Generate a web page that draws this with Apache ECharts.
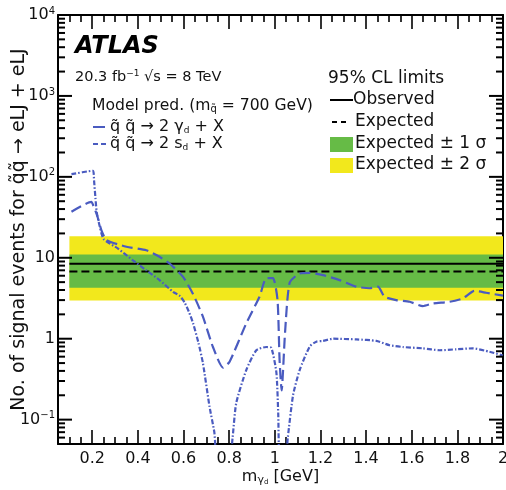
<!DOCTYPE html>
<html><head><meta charset="utf-8">
<script src="https://cdn.jsdelivr.net/npm/echarts@6/dist/echarts.min.js"></script>
<style>html,body{margin:0;padding:0;background:#fff}#c{width:506px;height:490px}</style>
</head><body><div id="c"></div><script>
// ---- data ----
const gammaX = [0.109,0.196,0.205,0.222,0.24,0.263,0.35,0.437,0.481,0.539,0.598,0.641,0.685,0.729,0.773,0.802,0.875,0.933,0.963,0.992,1.012,1.021,1.03,1.045,1.065,1.109,1.153,1.211,1.284,1.357,1.415,1.452,1.481,1.532,1.591,1.649,1.693,1.766,1.824,1.875,1.926,2.0];
const gammaY = [37,49,44,33,22,16.5,13.7,12.4,10.8,8.5,5.8,3.6,1.87,0.79,0.44,0.52,1.55,3.3,5.6,5.6,3.0,0.54,0.23,1.2,4.9,6.4,6.5,6.1,5.3,4.4,4.2,4.4,3.3,3.0,2.86,2.53,2.73,2.86,3.15,3.9,3.7,3.4];
const sdX = [0.109,0.203,0.208,0.214,0.22,0.232,0.25,0.313,0.378,0.437,0.495,0.554,0.583,0.605,0.625,0.642,0.665,0.685,0.714,0.735,0.75,0.8,0.815,0.831,0.875,0.919,0.963,0.985,1.007,1.015,1.022,1.045,1.057,1.08,1.109,1.153,1.182,1.211,1.255,1.357,1.445,1.503,1.561,1.649,1.722,1.795,1.868,1.941,2.0];
const sdY = [108,119,90,55,36,25,17,13,9.3,7.0,5.3,3.8,3.4,2.8,2.1,1.55,0.9,0.5,0.145,0.07,0.03,0.03,0.06,0.16,0.41,0.72,0.79,0.77,0.38,0.12,0.03,0.03,0.06,0.2,0.41,0.8,0.92,0.94,1.0,0.98,0.94,0.83,0.79,0.76,0.72,0.74,0.76,0.69,0.62];
const limitRange = [0.1, 2.0];
const observed = 8.43;
const expected = 6.79;
const band1 = [4.26, 11.0];
const band2 = [2.97, 18.5];
const xTickLabels = [0.2,0.4,0.6,0.8,1.0,1.2,1.4,1.6,1.8,2.0];
const yDecades = [0.1,1,10,100,1000,10000];

// ---- derived (axis decoration only) ----
const xMinor = [];
for (let i = 2; i <= 39; i++) { const v = +(i*0.05).toFixed(2); if (Math.abs(v/0.2 - Math.round(v/0.2)) > 1e-6) xMinor.push(v); }
const yTickItems = yDecades.map(v => [v, 1]);
for (let e = -2; e <= 3; e++) for (let m = 2; m <= 9; m++) { const v = +(m*Math.pow(10,e)).toPrecision(3); if (v > 0.05 && v < 10000) yTickItems.push([v, 0]); }
const pairs = (xs, ys) => xs.map((x,i) => [x, ys[i]]);

const FF = 'DejaVu Sans';
const BLUE = '#4a5bc0';
const GREEN = '#66bb46';
const YELLOW = '#f2e81c';
const XMIN = 0.05, XMAX = 2, YMIN = 0.05, YMAX = 10000;

const ax = {color:'#000', width:2};
function xAx(pos, ticks, len, line, labels) {
  return {type:'value', position:pos, min:XMIN, max:XMAX, splitLine:{show:false},
    axisLine:{show:line, onZero:false, lineStyle:ax},
    axisTick:{show:true, inside:true, length:len, customValues:ticks, lineStyle:{color:'#000', width:1.6}},
    axisLabel: labels ? {show:true, customValues:xTickLabels, margin:7, fontFamily:FF, fontSize:16, color:'#111',
       formatter: v => String(+(+v).toFixed(1))} : {show:false}};
}
const supRich = {
  s:{fontFamily:FF, fontSize:10, color:'#111', lineHeight:10, verticalAlign:'top'}
};

function renderYTick(params, api) {
  const v = api.value(1), major = api.value(2);
  const len = major ? 14 : 7;
  const pL = api.coord([XMIN, v]);
  const pR = api.coord([XMAX, v]);
  const st = {stroke:'#000', lineWidth:2};
  return {type:'group', children:[
    {type:'line', shape:{x1:pL[0], y1:pL[1], x2:pL[0]+len, y2:pL[1]}, style:st},
    {type:'line', shape:{x1:pR[0]-len, y1:pR[1], x2:pR[0], y2:pR[1]}, style:st}
  ]};
}

const option = {
  animation:false,
  grid:{left:58, right:3, top:15, bottom:46, outerBoundsMode:'none', containLabel:false},
  xAxis:[
    Object.assign(xAx('bottom', xTickLabels, 14, true, true), {
      name:'m{sub|γ}{ss|d} [GeV]', nameLocation:'middle', nameGap:24, nameMoveOverlap:false,
      nameTextStyle:{fontFamily:FF, fontSize:16, color:'#111', lineHeight:18,
        rich:{sub:{fontFamily:FF, fontSize:11, color:'#111', lineHeight:18, verticalAlign:'bottom', padding:[6,0,0,0]},
              ss:{fontFamily:FF, fontSize:7, color:'#111', lineHeight:18, verticalAlign:'bottom', padding:[9,0,0,0]}}}}),
    xAx('bottom', xMinor, 7, false, false),
    xAx('top', xTickLabels, 14, true, false),
    xAx('top', xMinor, 7, false, false)
  ],
  yAxis:[
    {type:'log', position:'left', min:YMIN, max:YMAX, splitLine:{show:false},
     axisLine:{show:true, onZero:false, lineStyle:ax},
     axisTick:{show:false},
     axisLabel:{show:true, margin:3, fontFamily:FF, fontSize:16, color:'#111', lineHeight:18, rich:supRich,
       formatter: v => { const l = Math.log10(v), e = Math.round(l); if (Math.abs(l-e) > 0.01) return '';
         if (e === 0) return '1'; if (e === 1) return '10'; return '10{s|' + (e < 0 ? '−' + (-e) : e) + '}'; }},
     name:'No. of signal events for q̃q̃ → eLJ + eLJ', nameLocation:'middle', nameGap:29, nameMoveOverlap:false,
     nameTextStyle:{fontFamily:FF, fontSize:19, color:'#111'}},
    {type:'log', position:'right', min:YMIN, max:YMAX, splitLine:{show:false},
     axisLine:{show:true, onZero:false, lineStyle:ax}, axisLabel:{show:false}, axisTick:{show:false}}
  ],
  graphic:[
    {type:'text', x:75, y:47, style:{text:'ATLAS', font:'italic bold 24px "DejaVu Sans"', fill:'#000', verticalAlign:'middle'}},
    {type:'text', x:75, y:77, style:{text:'20.3 fb{sup|−1} √s = 8 TeV', fontFamily:FF, fontSize:14.5, fill:'#111', verticalAlign:'middle',
       rich:{sup:{fontFamily:FF, fontSize:9, fill:'#111', lineHeight:9, verticalAlign:'top'}}}},
    {type:'text', x:92, y:106, style:{text:'Model pred. (m{sub|q̃} = 700 GeV)', fontFamily:FF, fontSize:15.6, fill:'#111', verticalAlign:'middle',
       rich:{sub:{fontFamily:FF, fontSize:10, fill:'#111', lineHeight:10, verticalAlign:'bottom'}}}},
    {type:'line', shape:{x1:93, y1:127, x2:108, y2:127}, style:{stroke:BLUE, lineWidth:2, lineDash:[12,4]}},
    {type:'text', x:110, y:127, style:{text:'q̃ q̃ → 2 γ{sub|d} + X', fontFamily:FF, fontSize:16, fill:'#111', verticalAlign:'middle',
       rich:{sub:{fontFamily:FF, fontSize:9, fill:'#111', lineHeight:9, verticalAlign:'bottom'}}}},
    {type:'line', shape:{x1:93, y1:144, x2:108, y2:144}, style:{stroke:BLUE, lineWidth:2, lineDash:[5,3]}},
    {type:'text', x:110, y:144, style:{text:'q̃ q̃ → 2 s{sub|d} + X', fontFamily:FF, fontSize:16, fill:'#111', verticalAlign:'middle',
       rich:{sub:{fontFamily:FF, fontSize:9, fill:'#111', lineHeight:9, verticalAlign:'bottom'}}}},
    {type:'text', x:328, y:79, style:{text:'95% CL limits', fontFamily:FF, fontSize:17, fill:'#111', verticalAlign:'middle'}},
    {type:'line', shape:{x1:330, y1:100, x2:353, y2:100}, style:{stroke:'#000', lineWidth:2}},
    {type:'text', x:353, y:100, style:{text:'Observed', fontFamily:FF, fontSize:17, fill:'#111', verticalAlign:'middle'}},
    {type:'line', shape:{x1:332, y1:122, x2:347, y2:122}, style:{stroke:'#000', lineWidth:2, lineDash:[5,4]}},
    {type:'text', x:355, y:122, style:{text:'Expected', fontFamily:FF, fontSize:17, fill:'#111', verticalAlign:'middle'}},
    {type:'rect', shape:{x:330, y:137, width:23, height:15}, style:{fill:GREEN}},
    {type:'text', x:355, y:144, style:{text:'Expected ± 1 σ', fontFamily:FF, fontSize:17, fill:'#111', verticalAlign:'middle'}},
    {type:'rect', shape:{x:330, y:158, width:23, height:15}, style:{fill:YELLOW}},
    {type:'text', x:355, y:165, style:{text:'Expected ± 2 σ', fontFamily:FF, fontSize:17, fill:'#111', verticalAlign:'middle'}}
  ],
  series:[
    {type:'line', name:'bands', z:1, data:[[limitRange[0], expected]], symbol:'none', lineStyle:{opacity:0}, silent:true,
     markArea:{silent:true, z:1, label:{show:false}, data:[
       [{xAxis:limitRange[0], yAxis:band2[0], itemStyle:{color:YELLOW, opacity:1}}, {xAxis:limitRange[1], yAxis:band2[1]}],
       [{xAxis:limitRange[0], yAxis:band1[0], itemStyle:{color:GREEN, opacity:1}}, {xAxis:limitRange[1], yAxis:band1[1]}]
     ]}},
    {type:'line', name:'Observed', z:3, data:[[limitRange[0], observed],[limitRange[1], observed]], symbol:'none',
     lineStyle:{color:'#000', width:2}},
    {type:'line', name:'Expected', z:3, data:[[limitRange[0], expected],[limitRange[1], expected]], symbol:'none',
     lineStyle:{color:'#000', width:2, type:[8,4]}},
    {type:'line', name:'gamma', z:4, data:pairs(gammaX, gammaY), symbol:'none', smooth:0.2,
     lineStyle:{color:BLUE, width:2.2, type:[11,5]}},
    {type:'line', name:'sd', z:4, data:pairs(sdX, sdY), symbol:'none', smooth:0.2,
     lineStyle:{color:BLUE, width:2.2, type:[5,2,1.5,2]}},
    {type:'custom', name:'yTicks', z:6, silent:true, clip:false,
     data:yTickItems.map(t => [XMIN, t[0], t[1]]), encode:{x:0, y:1},
     renderItem:renderYTick}
  ]
};
const chart = echarts.init(document.getElementById('c'), null, {renderer:'canvas'});
chart.setOption(option);
</script></body></html>
